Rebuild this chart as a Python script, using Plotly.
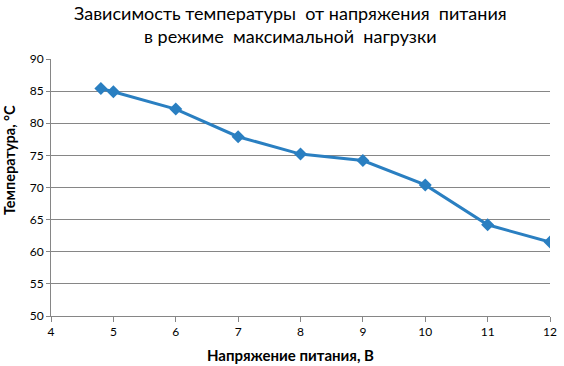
import plotly.graph_objects as go

voltage = [4.8, 5, 6, 7, 8, 9, 10, 11, 12]
temperature = [85.4, 84.9, 82.2, 77.9, 75.2, 74.2, 70.4, 64.2, 61.5]

title_text = "Зависимость температуры  от напряжения  питания<br>в режиме  максимальной  нагрузки"
x_title = "Напряжение питания, В"
y_title = "Температура, °С"

fig = go.Figure()
fig.add_trace(go.Scatter(
    x=voltage, y=temperature, mode="lines+markers",
    line=dict(color="#2A7FC1", width=3),
    marker=dict(symbol="diamond", size=10, color="#2A7FC1"),
    showlegend=False,
))

fig.update_layout(
    width=564, height=366,
    margin=dict(l=51, r=7, t=59, b=50),
    paper_bgcolor="white", plot_bgcolor="white",
    font=dict(family="Lato, Open Sans, sans-serif", color="#000000"),
)
fig.add_annotation(
    text=title_text, xref="paper", yref="paper", x=0.48, y=1.227,
    xanchor="center", yanchor="top", showarrow=False, borderpad=0,
    font=dict(size=18, color="#000000"), align="center",
)
fig.add_annotation(
    text="<b>" + x_title + "</b>", xref="paper", yref="paper", x=0.479, y=-0.152,
    xanchor="center", yanchor="middle", showarrow=False,
    font=dict(size=15, color="#000000"),
)
fig.add_annotation(
    text="<b>" + y_title + "</b>", xref="paper", yref="paper", x=-0.084, y=0.607,
    xanchor="center", yanchor="middle", showarrow=False, textangle=-90,
    font=dict(size=14.5, color="#000000"),
)
fig.update_xaxes(
    range=[4, 12], tickvals=[4, 5, 6, 7, 8, 9, 10, 11, 12],
    showgrid=False, showline=True, linecolor="#868686", linewidth=1,
    ticks="outside", ticklen=5, tickcolor="#868686",
    tickfont=dict(size=12), zeroline=False,
)
fig.update_yaxes(
    range=[50, 90], tickvals=[50, 55, 60, 65, 70, 75, 80, 85, 90],
    showgrid=True, gridcolor="#868686", gridwidth=1,
    showline=True, linecolor="#868686", linewidth=1,
    ticks="outside", ticklen=4, tickcolor="#868686",
    tickfont=dict(size=12), zeroline=False,
)

fig.write_html("out.html")
